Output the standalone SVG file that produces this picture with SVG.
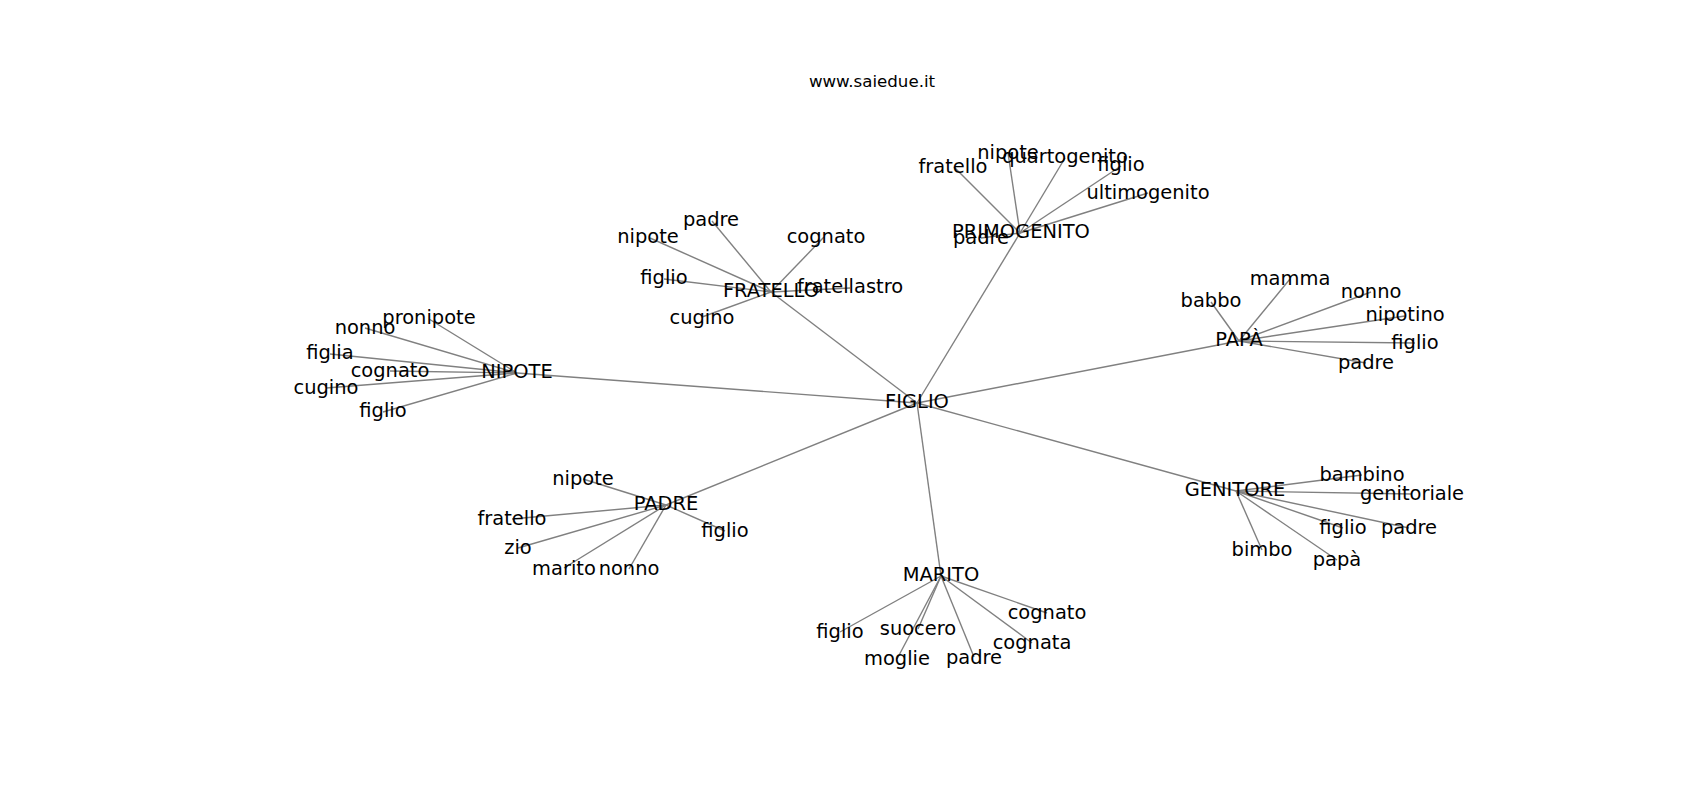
<svg xmlns="http://www.w3.org/2000/svg" width="1700" height="800" viewBox="0 0 1700 800">
<style>
.e{stroke:#808080;stroke-width:1.4;fill:none}
.n text{font-family:"DejaVu Sans",sans-serif;font-size:19.44px;fill:#000;text-anchor:middle}
.t{font-family:"DejaVu Sans",sans-serif;font-size:16.67px;fill:#000;text-anchor:middle}
</style>
<rect width="1700" height="800" fill="#fff"/>
<text class="t" x="872" y="87">www.saiedue.it</text>
<g id="edges" class="e">
<line x1="917" y1="403" x2="1020" y2="233"/>
<line x1="917" y1="403" x2="771" y2="292"/>
<line x1="917" y1="403" x2="517" y2="373"/>
<line x1="917" y1="403" x2="1239" y2="341"/>
<line x1="917" y1="403" x2="1236" y2="491"/>
<line x1="917" y1="403" x2="941" y2="576"/>
<line x1="917" y1="403" x2="666" y2="505"/>
<line x1="1020" y1="233" x2="981" y2="238"/>
<line x1="1020" y1="233" x2="954" y2="167"/>
<line x1="1020" y1="233" x2="1008" y2="153"/>
<line x1="1020" y1="233" x2="1065" y2="158"/>
<line x1="1020" y1="233" x2="1121" y2="166"/>
<line x1="1020" y1="233" x2="1148" y2="193"/>
<line x1="771" y1="292" x2="712" y2="221"/>
<line x1="771" y1="292" x2="650" y2="238"/>
<line x1="771" y1="292" x2="824" y2="237"/>
<line x1="771" y1="292" x2="664" y2="279"/>
<line x1="771" y1="292" x2="850" y2="288"/>
<line x1="771" y1="292" x2="702" y2="317"/>
<line x1="517" y1="373" x2="429" y2="319"/>
<line x1="517" y1="373" x2="365" y2="328"/>
<line x1="517" y1="373" x2="330" y2="354"/>
<line x1="517" y1="373" x2="390" y2="371"/>
<line x1="517" y1="373" x2="326" y2="388"/>
<line x1="517" y1="373" x2="383" y2="412"/>
<line x1="1239" y1="341" x2="1211" y2="302"/>
<line x1="1239" y1="341" x2="1290" y2="279"/>
<line x1="1239" y1="341" x2="1371" y2="292"/>
<line x1="1239" y1="341" x2="1405" y2="316"/>
<line x1="1239" y1="341" x2="1415" y2="343"/>
<line x1="1239" y1="341" x2="1366" y2="363"/>
<line x1="1236" y1="491" x2="1362" y2="475"/>
<line x1="1236" y1="491" x2="1412" y2="494"/>
<line x1="1236" y1="491" x2="1343" y2="528"/>
<line x1="1236" y1="491" x2="1409" y2="528"/>
<line x1="1236" y1="491" x2="1262" y2="550"/>
<line x1="1236" y1="491" x2="1337" y2="560"/>
<line x1="941" y1="576" x2="1047" y2="613"/>
<line x1="941" y1="576" x2="840" y2="632"/>
<line x1="941" y1="576" x2="918" y2="629"/>
<line x1="941" y1="576" x2="1032" y2="643"/>
<line x1="941" y1="576" x2="897" y2="659"/>
<line x1="941" y1="576" x2="974" y2="657"/>
<line x1="666" y1="505" x2="583" y2="479"/>
<line x1="666" y1="505" x2="512" y2="519"/>
<line x1="666" y1="505" x2="725" y2="531"/>
<line x1="666" y1="505" x2="518" y2="548"/>
<line x1="666" y1="505" x2="564" y2="568"/>
<line x1="666" y1="505" x2="629" y2="569"/>
</g>
<g class="n">
<g id="figlio-hub"><text x="917" y="408">FIGLIO</text></g>
<g id="primogenito"><text x="1021" y="238">PRIMOGENITO</text></g>
<g id="p-padre"><text x="981" y="243.5">padre</text></g>
<g id="p-fratello"><text x="953" y="172.5">fratello</text></g>
<g id="p-nipote"><text x="1008" y="158.5">nipote</text></g>
<g id="p-quartogenito"><text x="1065" y="162.5">quartogenito</text></g>
<g id="p-figlio"><text x="1121" y="170.5">figlio</text></g>
<g id="p-ultimogenito"><text x="1148" y="198.5">ultimogenito</text></g>
<g id="fratello"><text x="771" y="297">FRATELLO</text></g>
<g id="f-padre"><text x="711" y="225.5">padre</text></g>
<g id="f-nipote"><text x="648" y="242.5">nipote</text></g>
<g id="f-cognato"><text x="826" y="242.5">cognato</text></g>
<g id="f-figlio"><text x="664" y="283.5">figlio</text></g>
<g id="f-fratellastro"><text x="850" y="292.5">fratellastro</text></g>
<g id="f-cugino"><text x="702" y="323.5">cugino</text></g>
<g id="nipote"><text x="517" y="378">NIPOTE</text></g>
<g id="n-pronipote"><text x="429" y="323.5">pronipote</text></g>
<g id="n-nonno"><text x="365" y="333.5">nonno</text></g>
<g id="n-figlia"><text x="330" y="358.5">figlia</text></g>
<g id="n-cognato"><text x="390" y="376.5">cognato</text></g>
<g id="n-cugino"><text x="326" y="393.5">cugino</text></g>
<g id="n-figlio"><text x="383" y="416.5">figlio</text></g>
<g id="papa"><text x="1239" y="346">PAPÀ</text></g>
<g id="pa-babbo"><text x="1211" y="306.5">babbo</text></g>
<g id="pa-mamma"><text x="1290" y="284.5">mamma</text></g>
<g id="pa-nonno"><text x="1371" y="297.5">nonno</text></g>
<g id="pa-nipotino"><text x="1405" y="320.5">nipotino</text></g>
<g id="pa-figlio"><text x="1415" y="348.5">figlio</text></g>
<g id="pa-padre"><text x="1366" y="368.5">padre</text></g>
<g id="genitore"><text x="1235" y="496">GENITORE</text></g>
<g id="g-bambino"><text x="1362" y="480.5">bambino</text></g>
<g id="g-genitoriale"><text x="1412" y="499.5">genitoriale</text></g>
<g id="g-figlio"><text x="1343" y="533.5">figlio</text></g>
<g id="g-padre"><text x="1409" y="533.5">padre</text></g>
<g id="g-bimbo"><text x="1262" y="555.5">bimbo</text></g>
<g id="g-papa"><text x="1337" y="565.5">papà</text></g>
<g id="marito"><text x="941" y="581">MARITO</text></g>
<g id="m-cognato"><text x="1047" y="618.5">cognato</text></g>
<g id="m-figlio"><text x="840" y="637.5">figlio</text></g>
<g id="m-suocero"><text x="918" y="634.5">suocero</text></g>
<g id="m-cognata"><text x="1032" y="648.5">cognata</text></g>
<g id="m-moglie"><text x="897" y="664.5">moglie</text></g>
<g id="m-padre"><text x="974" y="663.5">padre</text></g>
<g id="padre"><text x="666" y="510">PADRE</text></g>
<g id="pd-nipote"><text x="583" y="484.5">nipote</text></g>
<g id="pd-fratello"><text x="512" y="524.5">fratello</text></g>
<g id="pd-figlio"><text x="725" y="536.5">figlio</text></g>
<g id="pd-zio"><text x="518" y="553.5">zio</text></g>
<g id="pd-marito"><text x="564" y="574.5">marito</text></g>
<g id="pd-nonno"><text x="629" y="574.5">nonno</text></g>
</g>
</svg>
